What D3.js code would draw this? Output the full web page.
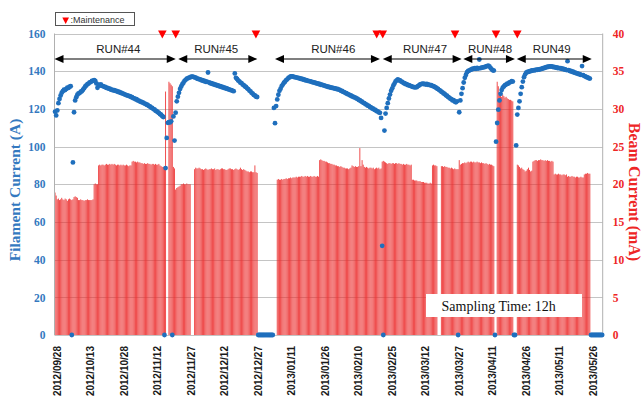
<!DOCTYPE html>
<html>
<head>
<meta charset="utf-8">
<script src="https://cdn.jsdelivr.net/npm/d3@7"></script>
<style>
  html, body { margin: 0; padding: 0; background: #fff; }
  svg { display: block; }
</style>
</head>
<body>
<svg id="chart" width="643" height="401"></svg>
<script>
// Logged every 12 hours, starting at the first sample below.
const sampleStart = "2012-09-27 00:00";
const sampleHours = 12;

// Beam current (mA), one value per 12 h sample; 0 = beam off.
const beamCurrent = [
  18.9, 18.5, 18.0, 18.1, 17.9, 18.0, 18.2, 18.0, 17.9, 18.1,
  18.0, 17.8, 18.0, 18.1, 18.0, 17.9, 18.0, 18.3, 18.4, 18.3,
  18.2, 17.9, 17.9, 18.0, 17.9, 17.9, 17.8, 17.9, 17.9, 18.0,
  17.9, 17.9, 17.9, 17.9, 18.0, 20.0, 20.1, 20.0, 20.0, 22.5,
  22.6, 22.5, 22.6, 22.6, 22.5, 22.6, 22.7, 22.6, 22.6, 22.7,
  22.6, 22.7, 22.6, 22.7, 22.6, 22.5, 22.6, 22.6, 22.5, 22.6,
  22.5, 22.6, 22.5, 22.5, 22.6, 22.5, 22.4, 22.5, 22.5, 23.0,
  23.1, 23.0, 23.0, 22.9, 23.0, 22.9, 22.9, 22.8, 22.8, 22.7,
  22.8, 22.7, 22.7, 22.8, 22.7, 22.7, 22.6, 22.7, 22.7, 22.6,
  22.7, 22.6, 22.6, 22.7, 22.5, 22.4, 22.3, 22.3, 22.2, 32.3,
  0, 0, 33.6, 33.4, 33.2, 33.0, 22.3, 22.1, 19.3, 19.5,
  19.6, 19.7, 19.8, 20.0, 20.0, 20.1, 20.0, 20.0, 20.1, 20.0,
  20.0, 20.0, 0, 0, 0, 22.0, 22.2, 22.1, 22.1, 22.2,
  22.1, 22.0, 22.0, 21.9, 22.0, 22.1, 22.0, 21.9, 22.0, 22.0,
  22.1, 22.0, 22.0, 22.1, 21.9, 22.0, 22.0, 21.9, 22.0, 22.1,
  22.1, 22.0, 22.0, 21.9, 21.9, 22.0, 22.1, 22.1, 22.0, 22.0,
  21.9, 22.0, 22.1, 22.0, 21.9, 22.0, 22.2, 22.0, 21.9, 22.0,
  21.9, 21.8, 21.7, 21.7, 21.6, 21.7, 21.7, 21.6, 21.6, 22.5,
  21.6, 21.5, 0, 0, 0, 0, 0, 0, 0, 0,
  0, 0, 0, 0, 0, 0, 0, 0, 0, 20.6,
  20.7, 20.6, 20.6, 20.7, 20.6, 20.7, 20.7, 20.8, 20.7, 20.8,
  20.8, 20.9, 20.8, 20.9, 20.9, 20.9, 21.0, 20.9, 21.0, 21.0,
  21.0, 21.1, 21.0, 21.0, 21.1, 21.0, 21.1, 21.0, 21.0, 21.1,
  21.0, 21.0, 21.1, 21.0, 21.0, 21.1, 21.0, 23.2, 23.3, 23.2,
  23.1, 23.1, 23.0, 23.0, 22.9, 22.8, 22.8, 22.7, 22.7, 22.6,
  22.6, 22.5, 22.5, 22.4, 22.4, 22.3, 22.4, 22.3, 22.2, 22.2,
  22.1, 22.1, 22.1, 22.0, 22.1, 22.2, 22.5, 22.4, 22.3, 22.4,
  22.3, 22.3, 22.4, 24.8, 22.4, 23.2, 22.6, 22.3, 22.2, 22.3,
  22.2, 22.1, 22.2, 22.2, 22.1, 22.2, 22.0, 22.1, 22.2, 22.1,
  22.2, 22.0, 22.1, 23.0, 23.1, 23.0, 22.9, 22.8, 22.7, 22.8,
  22.8, 22.7, 22.8, 22.8, 22.7, 22.8, 22.8, 22.7, 22.8, 22.7,
  22.7, 22.6, 22.7, 22.6, 22.6, 22.7, 22.6, 22.6, 22.5, 22.6,
  20.6, 20.6, 20.5, 20.5, 20.5, 20.4, 20.4, 20.4, 20.3, 20.3,
  20.3, 20.2, 20.2, 20.2, 20.1, 20.1, 20.2, 20.1, 22.5, 22.6,
  22.5, 22.5, 22.4, 0, 0, 0, 22.4, 22.4, 22.3, 22.4,
  22.3, 22.3, 22.2, 22.2, 22.1, 22.2, 22.1, 22.0, 22.1, 22.0,
  22.0, 22.0, 23.2, 22.6, 22.7, 22.8, 22.8, 22.9, 22.8, 22.9,
  23.0, 22.9, 23.0, 23.0, 22.9, 23.0, 22.9, 22.9, 23.0, 22.9,
  22.9, 22.8, 22.9, 22.8, 22.8, 22.7, 22.8, 22.7, 22.6, 22.7,
  22.6, 22.6, 22.5, 22.4, 0, 0, 33.6, 33.0, 32.2, 31.8,
  31.6, 31.9, 31.7, 31.5, 31.6, 31.4, 31.3, 31.2, 31.2, 31.1,
  31.0, 0, 0, 0, 22.6, 22.5, 22.3, 22.1, 22.2, 22.0,
  21.9, 21.7, 21.8, 22.0, 22.2, 21.9, 21.7, 21.8, 23.0, 23.1,
  23.2, 23.2, 23.1, 23.2, 23.2, 23.3, 23.2, 23.2, 23.1, 23.2,
  23.1, 23.2, 23.1, 23.1, 23.0, 23.1, 23.0, 21.3, 21.4, 21.3,
  21.3, 21.4, 21.3, 21.3, 21.2, 21.3, 21.3, 21.2, 21.3, 21.0,
  21.1, 21.0, 21.0, 21.1, 21.0, 21.0, 20.9, 21.0, 21.0, 20.9,
  20.9, 21.0, 20.9, 20.9, 21.3, 21.4, 21.4, 21.5, 21.4, 21.4,
  0, 0, 0, 0, 0, 0, 0, 0, 0, 0,
  0
];

// Filament current (A), same 12 h samples; 0 = filament off.
const filamentCurrent = [
  118.5, 116.5, 119.2, 123.0, 125.3, 127.1, 128.6, 129.4, 130.2, 130.0,
  130.6, 131.2, 131.1, 131.8, 132.0, 0, 91.6, 118.2, 124.5, 126.2,
  127.5, 128.2, 128.4, 129.1, 129.3, 130.2, 130.9, 131.9, 132.4, 133.1,
  133.4, 134.1, 134.2, 134.8, 134.9, 135.3, 134.9, 133.5, 131.2, 132.8,
  132.4, 133.0, 132.2, 132.1, 131.7, 131.6, 131.1, 131.1, 130.7, 130.7,
  130.2, 130.2, 129.8, 129.9, 129.5, 129.5, 129.1, 129.1, 128.7, 128.6,
  128.2, 128.1, 127.7, 127.6, 127.2, 127.2, 126.8, 126.8, 126.3, 126.2,
  125.7, 125.6, 125.1, 125.1, 124.5, 124.4, 123.9, 123.9, 123.4, 123.3,
  122.8, 122.7, 122.2, 122.1, 121.5, 121.3, 120.7, 120.5, 119.9, 119.7,
  119.0, 118.8, 118.2, 117.9, 117.2, 116.9, 116.1, 115.7, 0, 88.6,
  104.6, 112.6, 113.0, 112.8, 113.4, 0, 116.0, 103.2, 118.0, 124.0,
  126.5, 128.5, 130.6, 131.9, 133.1, 133.9, 134.9, 135.4, 136.1, 136.2,
  136.6, 136.7, 137.1, 137.1, 137.0, 136.7, 136.6, 136.1, 136.0, 135.7,
  135.7, 135.2, 135.2, 134.8, 134.8, 134.4, 134.4, 139.3, 134.0, 133.6,
  133.6, 133.2, 133.2, 132.8, 132.8, 132.4, 132.4, 132.0, 132.0, 131.6,
  131.6, 131.2, 131.2, 130.8, 130.8, 130.4, 130.4, 130.0, 130.0, 129.6,
  129.4, 138.8, 136.5, 135.9, 135.1, 134.6, 133.9, 133.7, 132.9, 132.6,
  131.9, 131.6, 130.9, 130.5, 129.7, 129.3, 128.5, 128.1, 127.4, 127.1,
  126.5, 126.3, 0, 0, 0, 0, 0, 0, 0, 0,
  0, 0, 0, 0, 0, 0, 120.5, 112.4, 121.5, 125.0,
  127.5, 129.6, 130.7, 132.1, 132.9, 133.9, 134.4, 135.3, 135.7, 136.4,
  136.7, 137.2, 137.2, 137.3, 136.9, 136.9, 136.6, 136.6, 136.3, 136.3,
  135.9, 136.0, 135.6, 135.6, 135.2, 135.3, 134.9, 134.9, 134.6, 134.6,
  134.2, 134.2, 133.9, 133.9, 133.5, 133.5, 133.2, 133.2, 132.8, 132.9,
  132.5, 132.5, 132.1, 132.1, 131.7, 131.8, 131.4, 131.4, 131.1, 131.1,
  130.8, 130.9, 130.5, 130.6, 130.2, 130.1, 129.6, 129.5, 129.0, 128.9,
  128.4, 128.3, 127.8, 127.7, 127.2, 127.1, 126.6, 126.5, 126.1, 126.0,
  125.5, 125.3, 124.7, 124.6, 124.0, 123.8, 123.2, 123.1, 122.5, 122.3,
  121.7, 121.6, 121.0, 120.8, 120.2, 120.1, 119.5, 119.4, 118.8, 118.7,
  118.1, 117.9, 115.2, 47.3, 0, 108.5, 117.5, 120.5, 123.0, 125.5,
  127.6, 129.6, 130.9, 132.4, 133.4, 134.6, 135.1, 135.7, 135.2, 135.1,
  134.5, 134.3, 133.7, 133.6, 133.1, 133.1, 132.6, 132.6, 132.2, 132.1,
  131.7, 131.7, 131.4, 131.5, 131.5, 132.1, 132.4, 133.0, 133.1, 133.4,
  133.2, 133.3, 132.9, 133.2, 132.8, 132.9, 132.5, 132.6, 132.1, 132.1,
  131.6, 131.4, 130.8, 130.6, 130.0, 129.7, 129.1, 128.8, 128.2, 127.9,
  127.2, 127.0, 126.3, 126.0, 125.4, 125.1, 124.5, 124.6, 123.8, 123.5,
  124.0, 0, 118.2, 124.5, 128.0, 131.0, 134.0, 136.5, 138.0, 139.5,
  140.1, 140.3, 140.7, 140.9, 141.3, 141.2, 141.6, 141.3, 141.7, 141.4,
  146.2, 141.6, 141.9, 141.9, 142.2, 142.2, 142.6, 142.7, 143.0, 142.5,
  141.8, 141.0, 140.5, 140.3, 0, 102.6, 112.5, 119.6, 124.5, 128.0,
  130.0, 131.3, 131.9, 132.6, 132.9, 133.4, 133.4, 134.1, 134.2, 134.7,
  134.5, 0, 0, 100.6, 117.0, 120.5, 124.0, 128.0, 131.5, 134.5,
  136.8, 138.2, 139.2, 139.6, 139.6, 140.0, 140.0, 140.4, 140.3, 140.6,
  140.5, 140.8, 140.7, 141.0, 140.9, 141.2, 141.2, 141.6, 141.6, 142.0,
  142.0, 142.4, 142.3, 142.6, 142.5, 142.6, 142.2, 142.3, 141.9, 142.0,
  141.7, 141.8, 141.5, 141.6, 141.2, 141.3, 140.9, 141.0, 140.6, 145.3,
  140.5, 140.1, 140.1, 139.7, 139.7, 139.2, 139.2, 138.8, 138.8, 138.4,
  138.4, 138.0, 142.7, 137.9, 137.4, 137.3, 136.8, 136.7, 136.3, 136.1,
  0, 0, 0, 0, 0, 0, 0, 0, 0, 0,
  0
];

const dateTicks = [
  "2012/09/28", "2012/10/13", "2012/10/28", "2012/11/12", "2012/11/27",
  "2012/12/12", "2012/12/27", "2013/01/11", "2013/01/26", "2013/02/10",
  "2013/02/25", "2013/03/12", "2013/03/27", "2013/04/11", "2013/04/26",
  "2013/05/11", "2013/05/26"
];
const filamentTicks = [0, 20, 40, 60, 80, 100, 120, 140, 160];
const beamTicks = [0, 5, 10, 15, 20, 25, 30, 35, 40];

// Operation runs: name, start, end, and where the name sits.
const runNames  = ["RUN#44", "RUN#45", "RUN#46", "RUN#47", "RUN#48", "RUN49"];
const runStarts = ["2012-09-27 00:00", "2012-11-21 10:00", "2013-01-03 18:00",
                   "2013-02-21 00:00", "2013-03-29 02:00", "2013-04-22 00:00"];
const runEnds   = ["2012-11-20 07:00", "2012-12-26 20:00", "2013-02-19 18:00",
                   "2013-03-28 08:00", "2013-04-21 05:00", "2013-05-25 14:00"];
const runLabelAt = ["2012-10-25 14:00", "2012-12-08 10:00", "2013-01-29 20:00",
                    "2013-03-11 22:00", "2013-04-10 01:00", "2013-05-07 16:00"];

// Maintenance events.
const maintenanceDates = [
  "2012-11-14 07:00", "2012-11-20 07:00", "2012-12-26 05:00", "2013-02-18 07:00",
  "2013-02-21 00:00", "2013-03-25 09:00", "2013-04-12 17:00", "2013-04-22 06:00"
];

const parseTime = d3.utcParse("%Y-%m-%d %H:%M");
const parseTick = d3.utcParse("%Y/%m/%d");
const t0 = parseTime(sampleStart);
const stepMs = sampleHours * 3600 * 1000;

const blue = "#1f6fbd";
const axisBlue = "#3479c0";
const red = "#ee2626";

const svg = d3.select("#chart");

const plot = { left: 54.5, right: 602.7, top: 33.5, bottom: 335 };

const x = d3.scaleUtc()
  .domain([parseTime("2012-09-27 00:00"), parseTime("2013-05-30 12:00")])
  .range([plot.left, plot.right]);
const yF = d3.scaleLinear().domain([0, 160]).range([plot.bottom, plot.top]);
const yB = d3.scaleLinear().domain([0, 40]).range([plot.bottom, plot.top]);

const samples = beamCurrent.map((b, i) => ({
  t: new Date(t0.getTime() + i * stepMs),
  beam: b,
  fil: filamentCurrent[i]
}));

// Horizontal gridlines
svg.append("g").selectAll("line")
  .data(filamentTicks)
  .join("line")
  .attr("x1", plot.left).attr("x2", plot.right)
  .attr("y1", d => Math.round(yF(d)) + 0.5).attr("y2", d => Math.round(yF(d)) + 0.5)
  .attr("stroke", "#c4c4c4").attr("stroke-width", 1);

// Beam current bars
svg.append("g").selectAll("rect")
  .data(samples.filter(d => d.beam > 0))
  .join("rect")
  .attr("x", d => x(d.t) + 0.1)
  .attr("width", d => (x(new Date(d.t.getTime() + stepMs)) - x(d.t)) * 0.8)
  .attr("y", d => yB(d.beam))
  .attr("height", d => plot.bottom - yB(d.beam))
  .attr("fill", "#ec2a2a")
  .attr("fill-opacity", 0.92);

// Plot frame (left, right)
svg.append("line").attr("x1", plot.left).attr("x2", plot.left)
  .attr("y1", plot.top).attr("y2", plot.bottom).attr("stroke", "#b0b0b0");
svg.append("line").attr("x1", plot.right).attr("x2", plot.right)
  .attr("y1", plot.top).attr("y2", plot.bottom).attr("stroke", "#b0b0b0");

// Filament current points
svg.append("g").selectAll("circle")
  .data(samples)
  .join("circle")
  .attr("cx", d => x(new Date(d.t.getTime() + stepMs / 2)))
  .attr("cy", d => yF(d.fil))
  .attr("r", 2.4)
  .attr("fill", blue);

// Left axis
const axL = svg.append("g")
  .attr("transform", `translate(${plot.left},0)`)
  .call(d3.axisLeft(yF).tickValues(filamentTicks).tickSize(0).tickPadding(9));
axL.select(".domain").remove();
axL.selectAll("text")
  .attr("fill", axisBlue)
  .style("font", "bold 11.5px 'Liberation Serif', 'Times New Roman', serif");

// Right axis
const axR = svg.append("g")
  .attr("transform", `translate(${plot.right},0)`)
  .call(d3.axisRight(yB).tickValues(beamTicks).tickSize(0).tickPadding(10));
axR.select(".domain").remove();
axR.selectAll("text")
  .attr("fill", red)
  .style("font", "bold 11.5px 'Liberation Serif', 'Times New Roman', serif");

// Date axis
const axB = svg.append("g")
  .attr("transform", `translate(0,${plot.bottom})`)
  .call(d3.axisBottom(x)
    .tickValues(dateTicks.map(parseTick))
    .tickFormat(d3.utcFormat("%Y/%m/%d"))
    .tickSize(0));
axB.select(".domain").remove();
axB.selectAll("text")
  .attr("transform", "rotate(-90)")
  .attr("x", -11).attr("y", 0).attr("dy", "0.36em")
  .style("text-anchor", "end")
  .attr("fill", "#1a1a1a")
  .style("font", "bold 10px 'Liberation Sans', Arial, sans-serif");

// Axis titles
svg.append("text")
  .attr("transform", "translate(20,190) rotate(-90)")
  .attr("text-anchor", "middle")
  .attr("fill", axisBlue)
  .style("font", "bold 15.5px 'Liberation Serif', 'Times New Roman', serif")
  .text("Filament Current (A)");
svg.append("text")
  .attr("transform", "translate(628.5,192) rotate(90)")
  .attr("text-anchor", "middle")
  .attr("fill", red)
  .style("font", "bold 16px 'Liberation Serif', 'Times New Roman', serif")
  .text("Beam Current (mA)");

// Run spans with double-headed arrows
const arrowY = 59;
const head = 9, half = 4;
const runs = runNames.map((name, i) => ({
  name,
  x1: x(parseTime(runStarts[i])),
  x2: x(parseTime(runEnds[i])),
  xl: x(parseTime(runLabelAt[i]))
}));
const rg = svg.append("g");
rg.selectAll("line").data(runs).join("line")
  .attr("x1", d => d.x1 + head - 1).attr("x2", d => d.x2 - head + 1)
  .attr("y1", arrowY).attr("y2", arrowY)
  .attr("stroke", "#000").attr("stroke-width", 1.2);
rg.selectAll("path.l").data(runs).join("path").attr("class", "l")
  .attr("d", d => `M${d.x1},${arrowY}L${d.x1 + head},${arrowY - half}L${d.x1 + head},${arrowY + half}Z`)
  .attr("fill", "#000");
rg.selectAll("path.r").data(runs).join("path").attr("class", "r")
  .attr("d", d => `M${d.x2},${arrowY}L${d.x2 - head},${arrowY - half}L${d.x2 - head},${arrowY + half}Z`)
  .attr("fill", "#000");
rg.selectAll("text").data(runs).join("text")
  .attr("x", d => d.xl).attr("y", 53)
  .attr("text-anchor", "middle")
  .attr("fill", "#222")
  .style("font", "11.5px 'Liberation Sans', Arial, sans-serif")
  .text(d => d.name);

// Maintenance markers
svg.append("g").selectAll("path")
  .data(maintenanceDates.map(parseTime))
  .join("path")
  .attr("d", d => { const cx = x(d); return `M${cx - 4.3},30.5L${cx + 4.3},30.5L${cx},38.5Z`; })
  .attr("fill", "#ff0000");

// Legend
const lg = svg.append("g");
lg.append("rect").attr("x", 55.5).attr("y", 12.5).attr("width", 79).attr("height", 13)
  .attr("fill", "#fff").attr("stroke", "#555").attr("stroke-width", 1);
lg.append("path").attr("d", "M62.3,17.5L69,17.5L65.65,24Z").attr("fill", "#ff0000");
lg.append("text").attr("x", 70.5).attr("y", 22.8)
  .attr("fill", "#333")
  .style("font", "9px 'Liberation Sans', Arial, sans-serif")
  .text(":Maintenance");

// Sampling note
svg.append("rect").attr("x", 426).attr("y", 294).attr("width", 156).attr("height", 23)
  .attr("fill", "#fff");
svg.append("text").attr("x", 441.5).attr("y", 310.5)
  .attr("fill", "#111")
  .style("font", "14px 'Liberation Serif', 'Times New Roman', serif")
  .text("Sampling Time: 12h");
</script>
</body>
</html>
